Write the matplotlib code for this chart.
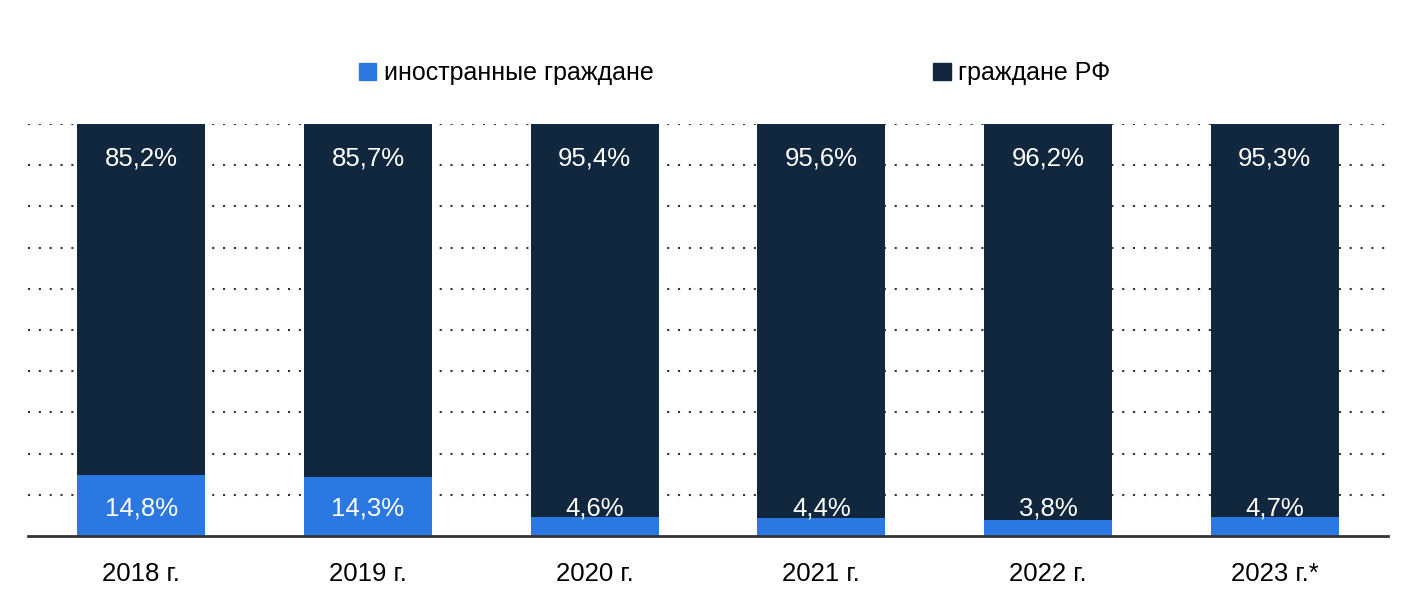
import matplotlib
matplotlib.use('Agg')
import matplotlib.pyplot as plt
from matplotlib.patches import Patch

plt.rcParams['font.family'] = ['Liberation Sans', 'DejaVu Sans']

years = ["2018 г.", "2019 г.", "2020 г.", "2021 г.", "2022 г.", "2023 г.*"]
foreign = [14.8, 14.3, 4.6, 4.4, 3.8, 4.7]
citizens = [85.2, 85.7, 95.4, 95.6, 96.2, 95.3]
series_names = ["иностранные граждане", "граждане РФ"]

BLUE = '#2b78e2'
DARK = '#10273e'

fig = plt.figure(figsize=(14.21, 6.11), dpi=100)
ax = fig.add_axes([0.0197, 0.1227, 0.9571, 0.6743])

x = range(len(years))
ax.bar(x, foreign, width=0.564, color=BLUE, zorder=3)
ax.bar(x, citizens, width=0.564, bottom=foreign, color=DARK, zorder=3)

for i in x:
    ax.text(i, 5.1, f"{foreign[i]:.1f}%".replace('.', ','), color='white',
            ha='center', va='baseline', fontsize=18.5, zorder=4)
    ax.text(i, 89.9, f"{citizens[i]:.1f}%".replace('.', ','), color='white',
            ha='center', va='baseline', fontsize=18.5, zorder=4)

ax.set_xlim(-0.5, 5.5)
ax.set_ylim(0, 100)
ax.set_yticks(range(10, 101, 10))
ax.yaxis.grid(True, linestyle=(0, (1, 4.2)), color='#333333', linewidth=1.5)
ax.tick_params(axis='y', left=False, labelleft=False)
ax.set_xticks(list(x))
ax.set_xticklabels(years, fontsize=18.5)
ax.tick_params(axis='x', length=0, pad=19)
for s in ['top', 'right', 'left']:
    ax.spines[s].set_visible(False)
ax.spines['bottom'].set_color('#333333')
ax.spines['bottom'].set_linewidth(2)
ax.spines['bottom'].set_zorder(5)

handles = [Patch(color=BLUE), Patch(color=DARK)]
fig.legend(handles, series_names, loc='center', bbox_to_anchor=(0.517, 0.88),
           ncol=2, frameon=False, fontsize=18, handlelength=0.7, handleheight=0.7,
           handletextpad=0.3, columnspacing=11.2)

fig.savefig('out.png', dpi=100)
